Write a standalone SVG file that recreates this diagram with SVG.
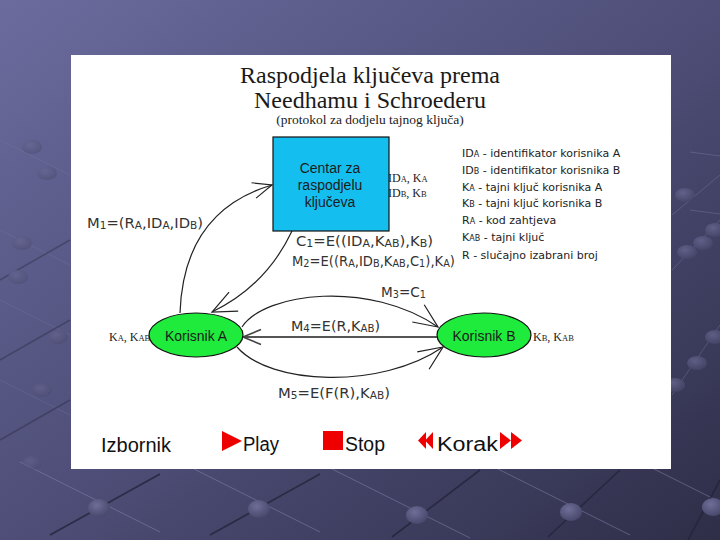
<svg xmlns="http://www.w3.org/2000/svg" width="720" height="540" viewBox="0 0 720 540">
<defs>
<linearGradient id="bg" x1="0" y1="0" x2="1" y2="1">
<stop offset="0" stop-color="#6B6B9E"/>
<stop offset="0.5" stop-color="#4E4E78"/>
<stop offset="1" stop-color="#2E2E48"/>
</linearGradient>
<radialGradient id="knob" cx="0.4" cy="0.35" r="0.7">
<stop offset="0" stop-color="#6E6E98"/>
<stop offset="1" stop-color="#46466A"/>
</radialGradient>
<marker id="ah" markerUnits="userSpaceOnUse" markerWidth="30" markerHeight="26" refX="24" refY="11" orient="auto" overflow="visible">
<path d="M0,0.5 L24,11 L0,21.5" fill="none" stroke="#222" stroke-width="1.2"/>
</marker>
<marker id="ahs" markerUnits="userSpaceOnUse" markerWidth="24" markerHeight="20" refX="19" refY="9" orient="auto" overflow="visible">
<path d="M0,1 L19,9 L0,17" fill="none" stroke="#222" stroke-width="1.2"/>
</marker>
<marker id="ahg" markerUnits="userSpaceOnUse" markerWidth="24" markerHeight="20" refX="18" refY="8" orient="auto" overflow="visible">
<path d="M0,0.5 L18,8 L0,15.5" fill="none" stroke="#444" stroke-width="1.6"/>
</marker>
</defs>
<style>
.ttl{font-family:"Liberation Serif","Times New Roman",serif;fill:#1a1a1a;text-anchor:middle}
.lbl{font-family:"DejaVu Sans",Verdana,sans-serif;font-size:14px;fill:#333}
.lbl2{font-family:"DejaVu Sans",Verdana,sans-serif;font-size:13.5px;fill:#333}
.leg{font-family:"DejaVu Sans",Verdana,sans-serif;font-size:11px;fill:#222}
.ser{font-family:"Liberation Serif","Times New Roman",serif;font-size:12px;fill:#222}
.nt{font-family:"Liberation Sans",Arial,sans-serif;font-size:14px;fill:#1c1c1c;text-anchor:middle}
.menu{font-family:"Liberation Sans",Arial,sans-serif;font-size:20px;fill:#111}
.s{font-size:10px}
.ss{font-size:8px}
.sl{font-size:8.5px}
.cn{fill:none;stroke:#222;stroke-width:1.2}
.dk{stroke:#24243a;stroke-width:1.6;opacity:0.8}
.lt{stroke:#8888b4;stroke-width:1;opacity:0.5}
.red{fill:#EE0000}
</style>
<rect x="0" y="0" width="720" height="540" fill="url(#bg)"/>
<g id="decor">
<line class="lt" x1="20" y1="462" x2="160" y2="532"/>
<line class="lt" x1="180" y1="462" x2="320" y2="532"/>
<line class="lt" x1="330" y1="468" x2="470" y2="538"/>
<line class="lt" x1="490" y1="465" x2="630" y2="535"/>
<line class="lt" x1="640" y1="462" x2="720" y2="502"/>
<line class="dk" x1="50" y1="535" x2="160" y2="474"/>
<line class="dk" x1="210" y1="535" x2="320" y2="474"/>
<line class="dk" x1="392" y1="537" x2="480" y2="470"/>
<line class="dk" x1="548" y1="537" x2="620" y2="470"/>
<line class="dk" x1="688" y1="540" x2="720" y2="480"/>
<ellipse cx="99" cy="508" rx="11" ry="9" fill="url(#knob)"/>
<ellipse cx="259" cy="509" rx="11" ry="9" fill="url(#knob)"/>
<ellipse cx="417" cy="515" rx="11" ry="9" fill="url(#knob)"/>
<ellipse cx="571" cy="512" rx="11" ry="9" fill="url(#knob)"/>
<ellipse cx="713" cy="507" rx="11" ry="9" fill="url(#knob)"/>
<g opacity="0.45">
<line class="lt" x1="0" y1="140" x2="70" y2="175"/>
<line class="lt" x1="0" y1="230" x2="70" y2="265"/>
<line class="lt" x1="0" y1="300" x2="70" y2="335"/>
<line class="lt" x1="0" y1="380" x2="70" y2="415"/>
<line class="dk" x1="0" y1="280" x2="70" y2="240"/>
<line class="dk" x1="0" y1="360" x2="70" y2="320"/>
<line class="dk" x1="0" y1="440" x2="70" y2="400"/>
<ellipse cx="32" cy="147" rx="10" ry="7" fill="url(#knob)"/>
<ellipse cx="47" cy="173" rx="10" ry="7" fill="url(#knob)"/>
<ellipse cx="22" cy="243" rx="10" ry="7" fill="url(#knob)"/>
<ellipse cx="18" cy="277" rx="10" ry="7" fill="url(#knob)"/>
<ellipse cx="58" cy="337" rx="10" ry="7" fill="url(#knob)"/>
<ellipse cx="42" cy="390" rx="10" ry="7" fill="url(#knob)"/>
<ellipse cx="32" cy="463" rx="10" ry="7" fill="url(#knob)"/>
</g>
<g opacity="0.7">
<line class="lt" x1="672" y1="215" x2="720" y2="175"/>
<line class="lt" x1="672" y1="270" x2="720" y2="220"/>
<line class="lt" x1="672" y1="395" x2="720" y2="325"/>
<line class="lt" x1="690" y1="152" x2="720" y2="156"/>
<line class="lt" x1="690" y1="210" x2="720" y2="214"/>
<ellipse cx="685" cy="195" rx="10" ry="7" fill="url(#knob)"/>
<ellipse cx="715" cy="230" rx="10" ry="7" fill="url(#knob)"/>
<ellipse cx="703" cy="243" rx="10" ry="7" fill="url(#knob)"/>
<ellipse cx="687" cy="252" rx="10" ry="7" fill="url(#knob)"/>
<ellipse cx="715" cy="337" rx="10" ry="7" fill="url(#knob)"/>
<ellipse cx="697" cy="363" rx="10" ry="7" fill="url(#knob)"/>
<ellipse cx="675" cy="385" rx="10" ry="7" fill="url(#knob)"/>
</g>
</g>
<rect id="panel" x="71" y="55" width="600" height="414" fill="#FFFFFF"/>
<g id="title">
<text class="ttl" x="370" y="83" font-size="24">Raspodjela ključeva prema</text>
<text class="ttl" x="370" y="108" font-size="24">Needhamu i Schroederu</text>
<text class="ttl" x="370" y="124" font-size="13.5">(protokol za dodjelu tajnog ključa)</text>
</g>
<g id="connectors">
<path id="m1" class="cn" d="M180,313 C182,255 205,205 272,185" marker-end="url(#ahs)"/>
<path id="m2" class="cn" d="M292,231 Q266,286 212,312" marker-end="url(#ah)"/>
<path id="m3" class="cn" d="M242,327 C265,292 370,280 438,327" marker-end="url(#ah)"/>
<path id="m4" d="M437,337 L243,337" fill="none" stroke="#555" stroke-width="2" marker-end="url(#ahg)"/>
<path id="m5" class="cn" d="M237,347 C270,385 380,390 443,347" marker-end="url(#ah)"/>
</g>
<g id="labels">
<text class="lbl" x="87" y="228" textLength="116" lengthAdjust="spacingAndGlyphs">M<tspan class="s" dy="1">1</tspan><tspan dy="-1">=(R</tspan><tspan class="s" dy="1">A</tspan><tspan dy="-1">,ID</tspan><tspan class="s" dy="1">A</tspan><tspan dy="-1">,ID</tspan><tspan class="s" dy="1">B</tspan><tspan dy="-1">)</tspan></text>
<text class="lbl2" x="296" y="246" textLength="137" lengthAdjust="spacingAndGlyphs">C<tspan class="s" dy="1">1</tspan><tspan dy="-1">=E((ID</tspan><tspan class="s" dy="1">A</tspan><tspan dy="-1">,K</tspan><tspan class="s" dy="1">AB</tspan><tspan dy="-1">),K</tspan><tspan class="s" dy="1">B</tspan><tspan dy="-1">)</tspan></text>
<text class="lbl2" x="292" y="266" textLength="163" lengthAdjust="spacingAndGlyphs">M<tspan class="s" dy="1">2</tspan><tspan dy="-1">=E((R</tspan><tspan class="s" dy="1">A</tspan><tspan dy="-1">,ID</tspan><tspan class="s" dy="1">B</tspan><tspan dy="-1">,K</tspan><tspan class="s" dy="1">AB</tspan><tspan dy="-1">,C</tspan><tspan class="s" dy="1">1</tspan><tspan dy="-1">),K</tspan><tspan class="s" dy="1">A</tspan><tspan dy="-1">)</tspan></text>
<text class="lbl" x="381" y="297" textLength="45" lengthAdjust="spacingAndGlyphs">M<tspan class="s" dy="1">3</tspan><tspan dy="-1">=C</tspan><tspan class="s" dy="1">1</tspan></text>
<text class="lbl" x="291" y="331" textLength="89" lengthAdjust="spacingAndGlyphs">M<tspan class="s" dy="1">4</tspan><tspan dy="-1">=E(R,K</tspan><tspan class="s" dy="1">AB</tspan><tspan dy="-1">)</tspan></text>
<text class="lbl" x="278" y="398" textLength="112" lengthAdjust="spacingAndGlyphs">M<tspan class="s" dy="1">5</tspan><tspan dy="-1">=E(F(R),K</tspan><tspan class="s" dy="1">AB</tspan><tspan dy="-1">)</tspan></text>
</g>
<g id="centar">
<rect x="273" y="137" width="116" height="94" fill="#14BEEF" stroke="#111" stroke-width="1.2"/>
<text class="nt" x="330" y="173">Centar za</text>
<text class="nt" x="330" y="190">raspodjelu</text>
<text class="nt" x="330" y="207">ključeva</text>
<text class="ser" x="388" y="182">ID<tspan class="sl">A</tspan>, K<tspan class="sl">A</tspan></text>
<text class="ser" x="388" y="197">ID<tspan class="sl">B</tspan>, K<tspan class="sl">B</tspan></text>
</g>
<g id="korisnikA">
<ellipse cx="196" cy="335" rx="47" ry="22" fill="#1EEB3C" stroke="#111" stroke-width="1.2"/>
<text class="nt" x="196" y="341">Korisnik A</text>
<text class="ser" x="109" y="341">K<tspan class="sl">A</tspan>, K<tspan class="sl">AB</tspan></text>
</g>
<g id="korisnikB">
<ellipse cx="484" cy="335" rx="47" ry="22" fill="#1EEB3C" stroke="#111" stroke-width="1.2"/>
<text class="nt" x="484" y="341">Korisnik B</text>
<text class="ser" x="533" y="341">K<tspan class="sl">B</tspan>, K<tspan class="sl">AB</tspan></text>
</g>
<g id="legend">
<text class="leg" x="462" y="157">ID<tspan class="ss">A</tspan> - identifikator korisnika A</text>
<text class="leg" x="462" y="174">ID<tspan class="ss">B</tspan> - identifikator korisnika B</text>
<text class="leg" x="462" y="190.5">K<tspan class="ss">A</tspan> - tajni ključ korisnika A</text>
<text class="leg" x="462" y="207">K<tspan class="ss">B</tspan> - tajni ključ korisnika B</text>
<text class="leg" x="462" y="224">R<tspan class="ss">A</tspan> - kod zahtjeva</text>
<text class="leg" x="462" y="240.5">K<tspan class="ss">AB</tspan> - tajni ključ</text>
<text class="leg" x="462" y="258.5">R - slučajno izabrani broj</text>
</g>
<g id="menu">
<text class="menu" x="101" y="452">Izbornik</text>
<polygon class="red" points="222,431 242,441 222,451"/>
<text class="menu" x="243" y="451" textLength="36" lengthAdjust="spacingAndGlyphs">Play</text>
<rect class="red" x="323" y="431" width="20" height="19"/>
<text class="menu" x="345" y="451" textLength="40" lengthAdjust="spacingAndGlyphs">Stop</text>
<polygon class="red" points="418,440.5 426,432 426,449"/>
<polygon class="red" points="425,440.5 433,432 433,449"/>
<text class="menu" x="437" y="451" textLength="61" lengthAdjust="spacingAndGlyphs">Korak</text>
<polygon class="red" points="500,432 511,440.5 500,449"/>
<polygon class="red" points="511,432 522,440.5 511,449"/>
</g>
</svg>
